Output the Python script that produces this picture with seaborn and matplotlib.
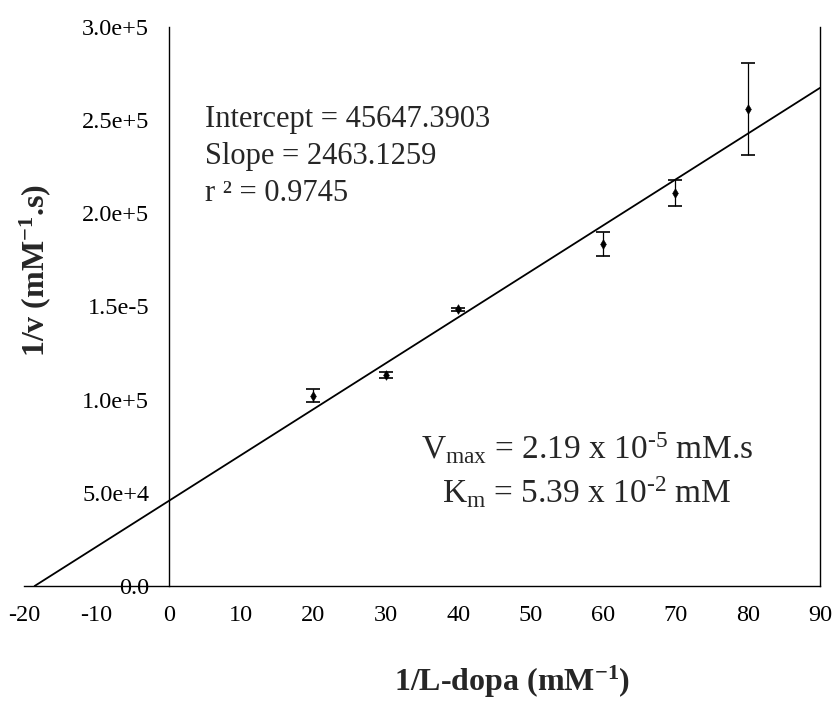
import numpy as np
import pandas as pd
import matplotlib
matplotlib.use("Agg")
import matplotlib.pyplot as plt
import seaborn as sns

# ---- data ----
inv_ldopa = [20, 30, 40, 60, 70, 80]
inv_v = [102000, 113200, 148400, 183500, 210800, 255900]
inv_v_err = [3500, 1400, 1000, 6600, 7000, 24700]
intercept = 45647.3903
slope = 2463.1259
r2 = 0.9745
x_ticks = [-20, -10, 0, 10, 20, 30, 40, 50, 60, 70, 80, 90]
y_ticks = [0, 50000, 100000, 150000, 200000, 250000, 300000]
y_tick_labels = ["0.0", "5.0e+4", "1.0e+5", "1.5e-5", "2.0e+5", "2.5e+5", "3.0e+5"]

sns.set_theme(style="white")
plt.rcParams["font.family"] = ["Liberation Serif", "DejaVu Serif"]
plt.rcParams["mathtext.fontset"] = "custom"
plt.rcParams["mathtext.rm"] = "Liberation Serif"
plt.rcParams["mathtext.it"] = "Liberation Serif:italic"
plt.rcParams["mathtext.bf"] = "Liberation Serif:bold"

fig = plt.figure(figsize=(8.36, 7.17), dpi=100)
ax = fig.add_axes([24/836, 1-586/717, (820-24)/836, (586-27)/717])

# regression line from x-intercept to 90
x0 = -intercept / slope
line_df = pd.DataFrame({"x": [x0, 90.0]})
line_df["y"] = intercept + slope * line_df["x"]
sns.lineplot(data=line_df, x="x", y="y", color="black", lw=1.3, ax=ax)

df = pd.DataFrame({"x": inv_ldopa, "y": inv_v, "e": inv_v_err})
ax.errorbar(df["x"], df["y"], yerr=df["e"], fmt="none", ecolor="black",
            elinewidth=0.9, capsize=5, capthick=1.2)
sns.scatterplot(data=df, x="x", y="y", marker="d", s=24, color="black",
                edgecolor="black", ax=ax, zorder=5)

ax.set_xlim(-20, 90)
ax.set_ylim(0, 300000)
ax.set_xticks(x_ticks)
ax.set_xticklabels([str(t) for t in x_ticks])
ax.set_yticks(y_ticks)
ax.set_yticklabels(y_tick_labels)

ax.spines["left"].set_position(("data", 0))
ax.spines["top"].set_visible(False)
for s in ["left", "bottom", "right"]:
    ax.spines[s].set_color("black")
    ax.spines[s].set_linewidth(1.0)

ax.tick_params(axis="both", which="major", direction="out", length=8,
               width=1.0, color="black", labelsize=17.5, labelcolor="black")
ax.tick_params(axis="x", pad=6)
ax.tick_params(axis="y", pad=6)
ax.tick_params(right=False)

ax.set_xlabel(r"1/L-dopa (mM$^{\mathbf{-1}}$)", fontsize=23, fontweight="bold")
ax.set_ylabel(r"1/v (mM$^{\mathbf{-1}}$.s)", fontsize=23, fontweight="bold")
ax.xaxis.set_label_coords(0.613, -0.14)
ax.yaxis.set_label_coords(0.036, 0.565)

ax.text(5.0, 230500, f"Intercept = {intercept:.4f}\nSlope = {slope:.4f}\nr ² = {r2:.4f}",
        fontsize=22, ha="left", va="center", linespacing=1.37)
ax.text(57.8, 74000, r"V$_{\rm max}$ = 2.19 x 10$^{\text{-5}}$ mM.s",
        fontsize=24, ha="center", va="center")
ax.text(57.8, 50000, r"K$_{\rm m}$ = 5.39 x 10$^{\text{-2}}$ mM",
        fontsize=24, ha="center", va="center")

fig.savefig("out.png", dpi=100, facecolor="white")
